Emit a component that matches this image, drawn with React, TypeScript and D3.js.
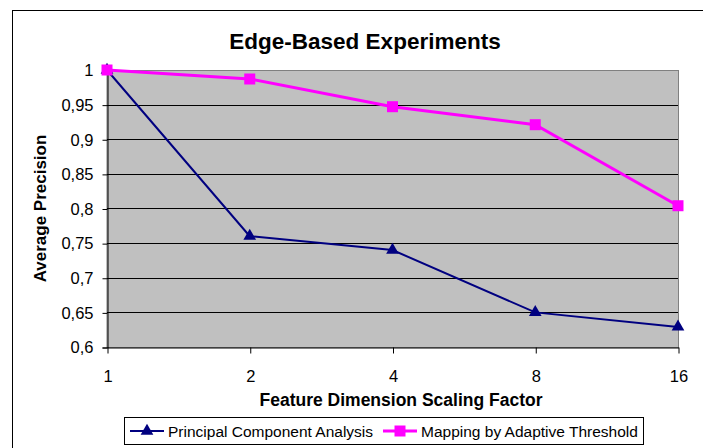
import React, { useEffect, useRef } from "react";
import * as d3 from "d3";

// chart data
const categories = ["1", "2", "4", "8", "16"];
const pcaValues = [1.0, 0.76, 0.74, 0.65, 0.629];
const adaptiveValues = [1.0, 0.987, 0.947, 0.921, 0.804];
const yTicks = [0.6, 0.65, 0.7, 0.75, 0.8, 0.85, 0.9, 0.95, 1];
const seriesNames = ["Principal Component Analysis", "Mapping by Adaptive Threshold"];

const FONT = "'Liberation Sans', Arial, sans-serif";

const App: React.FC = () => {
  const svgRef = useRef<SVGSVGElement | null>(null);
  const width = 703;
  const height = 448;

  useEffect(() => {
    const svg = d3.select(svgRef.current);
    svg.selectAll("*").remove();

    const plot = { left: 107, right: 678, top: 70, bottom: 347 };

    // outer chart border
    svg
      .append("rect")
      .attr("x", 12.5)
      .attr("y", 10.5)
      .attr("width", width)
      .attr("height", height)
      .attr("fill", "white")
      .attr("stroke", "#000")
      .attr("stroke-width", 1);

    const x = d3.scalePoint<string>().domain(categories).range([plot.left, plot.right]);
    const y = d3.scaleLinear().domain([0.6, 1]).range([plot.bottom, plot.top]);

    // plot area
    svg
      .append("rect")
      .attr("x", plot.left)
      .attr("y", plot.top + 0.5)
      .attr("width", plot.right - plot.left + 0.5)
      .attr("height", plot.bottom - plot.top)
      .attr("fill", "#c0c0c0")
      .attr("stroke", "#808080");

    // gridlines
    svg
      .append("g")
      .selectAll("line")
      .data(yTicks.filter((t) => t > 0.6 && t < 1))
      .enter()
      .append("line")
      .attr("x1", plot.left)
      .attr("x2", plot.right)
      .attr("y1", (d) => Math.round(y(d)) + 0.5)
      .attr("y2", (d) => Math.round(y(d)) + 0.5)
      .attr("stroke", "#000");

    const fmt = (v: number) => String(+v.toFixed(2)).replace(".", ",");

    // y axis
    const yAxis = svg
      .append("g")
      .attr("transform", `translate(${plot.left + 0.5}, 0.5)`)
      .call(
        d3
          .axisLeft(y)
          .tickValues(yTicks)
          .tickSize(5)
          .tickPadding(9)
          .tickFormat((d) => fmt(d as number))
      );
    yAxis.select(".domain").attr("stroke", "#000");
    yAxis
      .selectAll("text")
      .attr("font-family", FONT)
      .attr("font-size", 16.5)
      .attr("fill", "#000");

    // x axis
    const xAxis = svg
      .append("g")
      .attr("transform", `translate(0.5, ${plot.bottom + 0.5})`)
      .call(d3.axisBottom(x).tickSize(6).tickSizeOuter(0).tickPadding(17));
    xAxis.select(".domain").attr("stroke", "#000");
    xAxis
      .selectAll("text")
      .attr("font-family", FONT)
      .attr("font-size", 16.5)
      .attr("fill", "#000");

    // lines
    const line = d3
      .line<number>()
      .x((_, i) => x(categories[i]) as number)
      .y((d) => y(d));

    svg
      .append("path")
      .datum(pcaValues)
      .attr("fill", "none")
      .attr("stroke", "#000080")
      .attr("stroke-width", 2)
      .attr("d", line);

    svg
      .append("path")
      .datum(adaptiveValues)
      .attr("fill", "none")
      .attr("stroke", "#ff00ff")
      .attr("stroke-width", 3)
      .attr("d", line);

    const triangle = d3.symbol().type(d3.symbolTriangle).size(70);
    const square = d3.symbol().type(d3.symbolSquare).size(121);

    svg
      .append("g")
      .selectAll("path")
      .data(pcaValues)
      .enter()
      .append("path")
      .attr("d", triangle)
      .attr("fill", "#000080")
      .attr("transform", (d, i) => `translate(${x(categories[i])}, ${y(d)})`);

    svg
      .append("g")
      .selectAll("path")
      .data(adaptiveValues)
      .enter()
      .append("path")
      .attr("d", square)
      .attr("fill", "#ff00ff")
      .attr("transform", (d, i) => `translate(${x(categories[i])}, ${y(d)})`);

    // titles
    svg
      .append("text")
      .attr("x", 365)
      .attr("y", 49)
      .attr("text-anchor", "middle")
      .attr("font-family", FONT)
      .attr("font-weight", "bold")
      .attr("font-size", 22.5)
      .text("Edge-Based Experiments");

    svg
      .append("text")
      .attr("x", 401)
      .attr("y", 406)
      .attr("text-anchor", "middle")
      .attr("font-family", FONT)
      .attr("font-weight", "bold")
      .attr("font-size", 17.5)
      .text("Feature Dimension Scaling Factor");

    svg
      .append("text")
      .attr("transform", `translate(46, ${(plot.top + plot.bottom) / 2}) rotate(-90)`)
      .attr("text-anchor", "middle")
      .attr("font-family", FONT)
      .attr("font-weight", "bold")
      .attr("font-size", 17)
      .text("Average Precision");

    // legend
    const legend = svg.append("g");
    legend
      .append("rect")
      .attr("x", 124.5)
      .attr("y", 417.5)
      .attr("width", 519)
      .attr("height", 27)
      .attr("fill", "white")
      .attr("stroke", "#000");

    const legendItems = [
      { name: seriesNames[0], color: "#000080", sym: triangle, w: 2, x0: 130, tx: 168 },
      { name: seriesNames[1], color: "#ff00ff", sym: square, w: 3, x0: 383, tx: 421 },
    ];
    legendItems.forEach((it) => {
      legend
        .append("line")
        .attr("x1", it.x0)
        .attr("x2", it.x0 + 34)
        .attr("y1", 431)
        .attr("y2", 431)
        .attr("stroke", it.color)
        .attr("stroke-width", it.w);
      legend
        .append("path")
        .attr("d", it.sym)
        .attr("fill", it.color)
        .attr("transform", `translate(${it.x0 + 17}, 431)`);
      legend
        .append("text")
        .attr("x", it.tx)
        .attr("y", 437)
        .attr("font-family", FONT)
        .attr("font-size", 15.5)
        .text(it.name);
    });
  }, []);

  return (
    <svg
      ref={svgRef}
      width={width}
      height={height}
      style={{ position: "absolute", left: 0, top: 0, background: "white" }}
    />
  );
};

export default App;
